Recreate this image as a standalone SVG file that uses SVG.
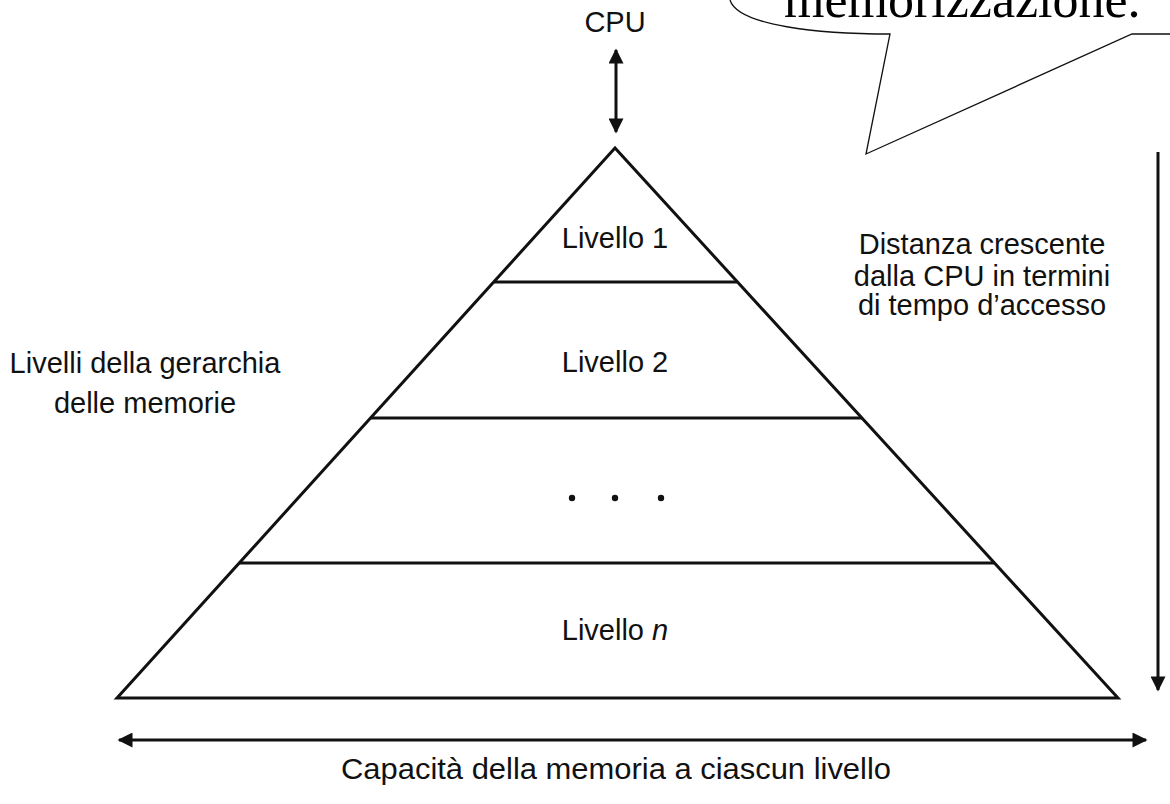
<svg xmlns="http://www.w3.org/2000/svg" width="1170" height="804" viewBox="0 0 1170 804">
<style>
.t{font-family:"Liberation Sans",Arial,sans-serif;font-size:29px;fill:#111}
.c{text-anchor:middle}
.ln{stroke:#111;stroke-width:3;fill:none}
.ar{stroke:#111;stroke-width:3;fill:none}
</style>
<defs>
<marker id="ah" viewBox="0 0 10 10" refX="9" refY="5" markerWidth="5.3" markerHeight="5" orient="auto-start-reverse" markerUnits="strokeWidth">
<path d="M0,0 L10,5 L0,10 Z" fill="#111"/>
</marker>
</defs>
<rect width="1170" height="804" fill="#fff"/>
<g id="callout">
<path d="M730,0 C738,26 820,34 890,34 L866,154 L1132,34 L1170,34" fill="#fff" stroke="#111" stroke-width="1.3"/>
<text x="784" y="17" style="font-family:'Liberation Serif','Times New Roman',serif;font-size:52px;fill:#000">memorizzazione.</text>
</g>
<g id="connectors">
<line class="ar" x1="616" y1="50" x2="616" y2="132" marker-start="url(#ah)" marker-end="url(#ah)"/>
<line class="ar" x1="1158" y1="152" x2="1158" y2="690" marker-end="url(#ah)"/>
<line class="ar" x1="119" y1="740" x2="1146" y2="740" marker-start="url(#ah)" marker-end="url(#ah)"/>
</g>
<g id="cpu"><text class="t c" x="615" y="32">CPU</text></g>
<g id="pyramid">
<path class="ln" d="M615,148 L117,698 L1118,698 Z" stroke-linejoin="miter"/>
<line class="ln" x1="494" y1="282" x2="737" y2="282"/>
<line class="ln" x1="370" y1="418" x2="862" y2="418"/>
<line class="ln" x1="239" y1="563" x2="995" y2="563"/>
</g>
<g id="livello1"><text class="t c" x="615" y="248">Livello 1</text></g>
<g id="livello2"><text class="t c" x="615" y="372">Livello 2</text></g>
<g id="dots">
<circle cx="572" cy="498" r="3.2" fill="#111"/>
<circle cx="615" cy="498" r="3.2" fill="#111"/>
<circle cx="661" cy="498" r="3.2" fill="#111"/>
</g>
<g id="livellon"><text class="t c" x="615" y="640">Livello <tspan font-style="italic">n</tspan></text></g>
<g id="left-label">
<text class="t c" x="145" y="373">Livelli della gerarchia</text>
<text class="t c" x="145" y="413">delle memorie</text>
</g>
<g id="right-label">
<text class="t c" x="982" y="254">Distanza crescente</text>
<text class="t c" x="982" y="286">dalla CPU in termini</text>
<text class="t c" x="982" y="315">di tempo d’accesso</text>
</g>
<g id="bottom-label"><text class="t c" x="616" y="779" textLength="550" lengthAdjust="spacingAndGlyphs">Capacità della memoria a ciascun livello</text></g>
</svg>
